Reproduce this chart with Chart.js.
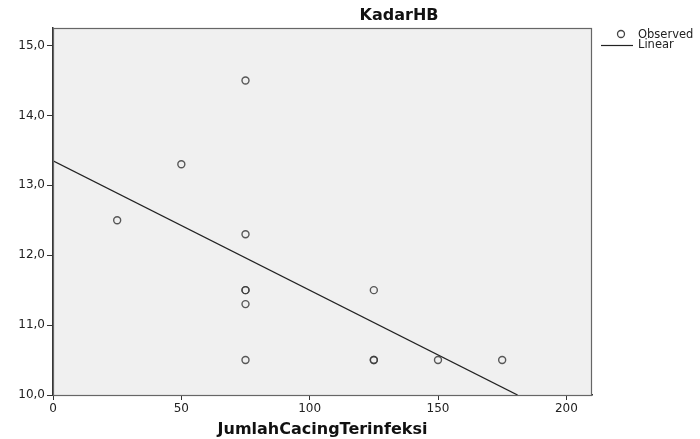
<!DOCTYPE html>
<html>
<head>
<meta charset="utf-8">
<script src="https://cdn.jsdelivr.net/npm/chart.js@4.4.1/dist/chart.umd.min.js"></script>
<style>
  html, body { margin: 0; padding: 0; background: #fff; }
  #wrap { width: 700px; height: 439px; }
</style>
</head>
<body>
<div id="wrap"><canvas id="grafico" width="700" height="439"></canvas></div>
<script>
/* DATA */
const jumlahCacing = [25, 50, 75, 75, 75, 75, 75, 75, 125, 125, 125, 150, 175];
const kadarHB      = [12.5, 13.3, 14.5, 12.3, 11.5, 11.5, 11.3, 10.5, 11.5, 10.5, 10.5, 10.5, 10.5];
// garis linear (ujung-ujung yang terbaca dari gambar)
const linearX = [0, 181];
const linearY = [13.35, 10.0];
const xTicks = [0, 50, 100, 150, 200];
const yTicks = [10, 11, 12, 13, 14, 15];

const FONT = "'DejaVu Sans', Verdana, sans-serif";

/* PLUGIN: fundo, moldura, título, legenda */
const spssStyle = {
  id: "spssStyle",
  beforeDatasetsDraw(chart){
    const {ctx, chartArea:a} = chart;
    ctx.save();
    ctx.fillStyle = "#f0f0f0";
    ctx.fillRect(a.left, a.top, a.right-a.left, a.bottom-a.top);
    ctx.restore();
  },
  afterDraw(chart){
    const {ctx, chartArea:a} = chart;
    ctx.save();
    ctx.strokeStyle = "#666";
    ctx.lineWidth = 1.2;
    ctx.strokeRect(a.left+0.5, a.top+0.5, a.right-a.left-1, a.bottom-a.top);
    // título
    ctx.fillStyle = "#111";
    ctx.font = "bold 16px " + FONT;
    ctx.textAlign = "center";
    ctx.textBaseline = "middle";
    ctx.fillText("KadarHB", 399, 16);
    // legenda
    ctx.font = "11.5px " + FONT;
    ctx.textAlign = "left";
    ctx.fillStyle = "#222";
    ctx.strokeStyle = "#444";
    ctx.lineWidth = 1.3;
    ctx.beginPath();
    ctx.arc(621, 34, 3.5, 0, Math.PI*2);
    ctx.stroke();
    ctx.fillText("Observed", 638, 35);
    ctx.lineWidth = 1.2;
    ctx.strokeStyle = "#222";
    ctx.beginPath();
    ctx.moveTo(601, 45.5);
    ctx.lineTo(633, 45.5);
    ctx.stroke();
    ctx.fillText("Linear", 638, 45);
    ctx.restore();
  }
};

new Chart(document.getElementById("grafico"), {
  type: "scatter",
  data: {
    datasets: [
      {
        label: "Observed",
        data: jumlahCacing.map((x,i)=>({x:x, y:kadarHB[i]})),
        pointStyle: "circle",
        pointRadius: 3.5,
        pointBorderWidth: 1.4,
        pointBorderColor: "rgba(60,60,60,0.85)",
        pointBackgroundColor: "rgba(0,0,0,0)"
      },
      {
        label: "Linear",
        type: "line",
        data: linearX.map((x,i)=>({x:x, y:linearY[i]})),
        borderColor: "#222",
        borderWidth: 1.3,
        pointRadius: 0,
        fill: false
      }
    ]
  },
  plugins: [spssStyle],
  options: {
    responsive: false,
    animation: false,
    layout: { padding: { top: 28, right: 108, left: 0, bottom: 0 } },
    plugins: { legend: { display: false }, tooltip: { enabled: false } },
    scales: {
      x: {
        type: "linear",
        min: 0, max: 210,
        afterBuildTicks: s => { s.ticks = xTicks.map(v=>({value:v})); },
        afterFit: s => { s.height = 44; },
        ticks: { color: "#222", font: { family: FONT, size: 12 }, padding: 2, maxRotation: 0 },
        grid: { drawOnChartArea: false, tickLength: 5, color: "#333" },
        border: { display: true, color: "#333", width: 1.5 },
        title: {
          display: true, text: "JumlahCacingTerinfeksi", color: "#111",
          font: { family: FONT, size: 16, weight: "bold" }, padding: { top: 0, bottom: 0 }
        }
      },
      y: {
        min: 10, max: 15.25,
        afterBuildTicks: s => { s.ticks = yTicks.map(v=>({value:v})); },
        afterFit: s => { s.width = 53; },
        ticks: {
          color: "#222", font: { family: FONT, size: 12 }, padding: 2,
          callback: v => v.toFixed(1).replace(".", ",")
        },
        grid: { drawOnChartArea: false, tickLength: 6, color: "#333" },
        border: { display: true, color: "#333", width: 1.5 }
      }
    }
  }
});
</script>
</body>
</html>
